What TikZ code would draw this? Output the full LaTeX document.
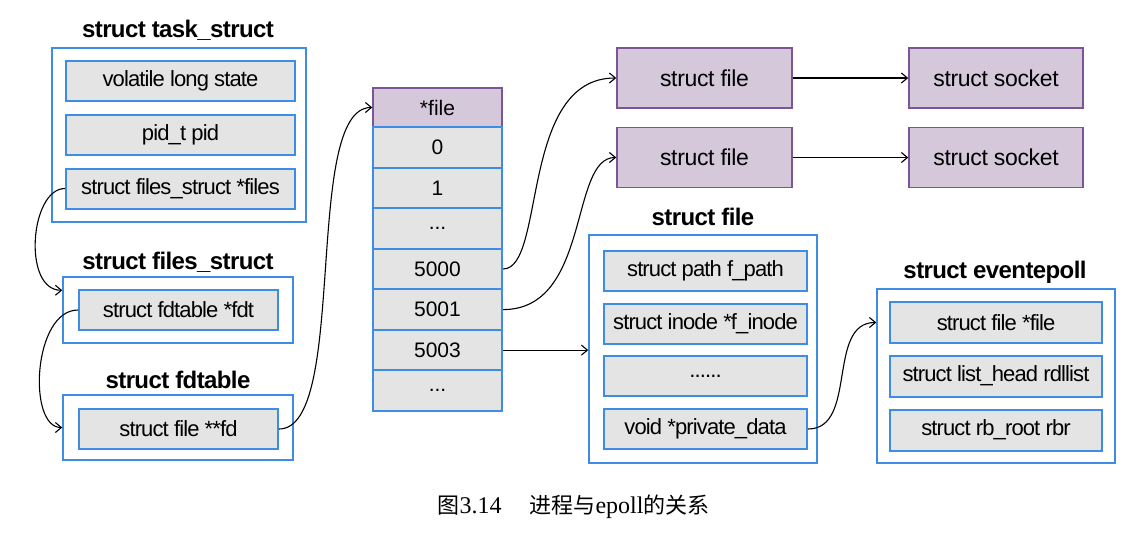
\documentclass[tikz,border=0pt]{standalone}
\usepackage{fontspec}
\setmainfont{Liberation Sans}
\newfontfamily\boxfont[LetterSpace=-4]{Liberation Sans}
\newfontfamily\pfont[LetterSpace=-1.5]{Liberation Sans}
\newfontfamily\titlefont[LetterSpace=-2.5]{Liberation Sans}
\newfontfamily\cjkfont{Noto Sans CJK SC}
\newfontfamily\capserif{Liberation Serif}
\usetikzlibrary{arrows.meta,calc}
\definecolor{bblue}{RGB}{62,140,228}
\definecolor{cellgray}{RGB}{228,228,228}
\definecolor{pfill}{RGB}{212,200,218}
\definecolor{pborder}{RGB}{125,85,150}
\begin{document}
\begin{tikzpicture}[x=1pt,y=-1pt,
  outerbox/.style={draw=bblue, line width=1.5pt, fill=white, inner sep=0pt},
  field/.style={draw=bblue, line width=2pt, fill=cellgray, minimum height=40pt, inner sep=0pt, font=\boxfont\fontsize{22}{24}\selectfont},
  cell/.style={field, minimum width=129pt, minimum height=40.6pt, font=\fontsize{21}{24}\selectfont},
  pbox/.style={draw=pborder, line width=1.5pt, fill=pfill, minimum width=175pt, minimum height=60pt, inner sep=0pt, font=\pfont\fontsize{23}{24}\selectfont},
  title/.style={font=\titlefont\fontsize{24}{26}\selectfont\bfseries, inner sep=0pt},
  link/.style={-{Straight Barb[length=6pt,width=10pt]}, line width=1.1pt, black}]
\useasboundingbox (0,0) rectangle (1148,538);
\fill[white] (0,0) rectangle (1148,538);

% task_struct
\node[outerbox, minimum width=254pt, minimum height=174pt] (ts) at (179,135) {};
\node[title] (tst) at (178,30) {struct task\_struct};
\node[field, minimum width=229pt] (state) at (180.5,81) {volatile long state};
\node[field, minimum width=229pt] (pid) at (180.5,134.5) {pid\_t pid};
\node[field, minimum width=229pt] (files) at (180.5,188.5) {struct files\_struct *files};

% files_struct
\node[title] (fst) at (178,262) {struct files\_struct};
\node[outerbox, minimum width=230pt, minimum height=66pt] (fs) at (178,310) {};
\node[field, minimum width=199pt] (fdt) at (178.5,310) {struct fdtable *fdt};

% fdtable
\node[title] (fdtt) at (178,380) {struct fdtable};
\node[outerbox, minimum width=230pt, minimum height=65pt] (fdtab) at (178,427.5) {};
\node[field, minimum width=199pt] (fd) at (178.5,429) {struct file **fd};

% array
\node[pbox, minimum width=129pt, minimum height=39pt, font=\fontsize{21}{24}\selectfont] (fhead) at (437.5,107.5) {*file};
\node[cell] (c0) at (437.5,147.3) {0};
\node[cell] (c1) at (437.5,187.9) {1};
\node[cell] (c2) at (437.5,228.4) {...};
\node[cell] (c5000) at (437.5,269) {5000};
\node[cell] (c5001) at (437.5,309.6) {5001};
\node[cell] (c5003) at (437.5,350.1) {5003};
\node[cell] (c3) at (437.5,390.7) {...};

% top right
\node[pbox] (file1) at (704.5,78) {struct file};
\node[pbox, minimum width=174pt] (sock1) at (996,78) {struct socket};
\node[pbox] (file2) at (704.5,157.5) {struct file};
\node[pbox, minimum width=174pt] (sock2) at (996,157.5) {struct socket};

% struct file
\node[title] (sft) at (703,217) {struct file};
\node[outerbox, minimum width=228pt, minimum height=228pt] (sf) at (703,349) {};
\node[field, minimum width=203pt] (fpath) at (705.5,271) {struct path f\_path};
\node[field, minimum width=203pt] (finode) at (705.5,323.5) {struct inode *f\_inode};
\node[field, minimum width=203pt] (fdots) at (705.5,376) {......};
\node[field, minimum width=203pt] (fpriv) at (705.5,429) {void *private\_data};

% eventepoll
\node[title] (ept) at (995,272) {struct eventepoll};
\node[outerbox, minimum width=238pt, minimum height=174pt] (ep) at (996,376) {};
\node[field, minimum width=212pt, minimum height=41pt] (epfile) at (996,322.5) {struct file *file};
\node[field, minimum width=212pt, minimum height=41pt] (eprdl) at (996,376) {struct list\_head rdllist};
\node[field, minimum width=212pt, minimum height=41pt] (eprbr) at (996,430) {struct rb\_root rbr};

% caption
\node[inner sep=0pt, anchor=base] (cap) at (573.5,513) {\fontsize{22}{24}\selectfont\cjkfont 图\fontsize{24}{24}\capserif 3.14\hspace{28pt}\fontsize{22}{24}\cjkfont 进程与\fontsize{24}{24}\capserif epoll\fontsize{22}{24}\cjkfont 的关系};

% connectors
\coordinate (fsin) at ($(fs.north west)+(0,14)$);
\draw[link] (files.west) .. controls +(-35,0) and +(-40,0) .. (fsin);
\draw[link] (fdt.west) .. controls +(-45,0) and +(-35,0) .. (fdtab.west);
\draw[link] (fd.east) .. controls +(70,0) and +(-70,0) .. (fhead.west);
\draw[link] (c5000.east) .. controls +(43,0) and +(-97,0) .. (file1.west);
\draw[link] (c5001.east) .. controls +(88,0) and +(-47,0) .. (file2.west);
\draw[link] (c5003.east) -- (c5003.east -| sf.west);
\draw[link] (file1.east) -- (sock1.west);
\draw[link] (file2.east) -- (sock2.west);
\draw[link] (fpriv.east) .. controls +(50,0) and +(-50,0) .. (epfile.west -| ep.west);
\end{tikzpicture}
\end{document}
